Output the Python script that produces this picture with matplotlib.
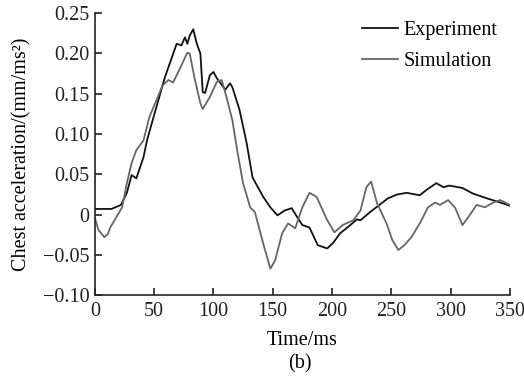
import matplotlib
matplotlib.use('Agg')
import matplotlib.pyplot as plt

plt.rcParams['font.family'] = ['Liberation Serif', 'DejaVu Serif']

# Experiment curve (time in ms, acceleration in mm/ms^2)
exp_t = [0, 14, 22, 27, 31, 35, 41, 44, 47, 59, 69, 73, 76, 78, 80, 83, 86, 89, 91,
         93, 97, 100, 103, 107, 110, 114, 116, 122, 128, 133, 142, 148, 154, 160,
         166, 171, 175, 181, 188, 196, 201, 207, 213, 221, 224, 232, 240, 247, 255,
         263, 274, 280, 288, 294, 299, 310, 319, 331, 342, 350]
exp_v = [0.007, 0.007, 0.012, 0.027, 0.049, 0.045, 0.071, 0.092, 0.108, 0.170,
         0.212, 0.210, 0.220, 0.212, 0.222, 0.230, 0.212, 0.200, 0.152, 0.151,
         0.173, 0.177, 0.169, 0.161, 0.155, 0.163, 0.158, 0.130, 0.089, 0.046,
         0.022, 0.009, -0.001, 0.005, 0.008, -0.004, -0.013, -0.016, -0.038,
         -0.042, -0.035, -0.023, -0.016, -0.006, -0.007, 0.003, 0.012, 0.020,
         0.025, 0.027, 0.024, 0.031, 0.039, 0.034, 0.036, 0.033, 0.026, 0.020,
         0.015, 0.011]

# Simulation curve
sim_t = [0, 3, 8, 11, 13, 19, 23, 27, 31, 35, 41, 46, 57, 62, 66, 72, 78, 80, 84,
         89, 91, 97, 103, 107, 111, 116, 120, 125, 131, 135, 142, 148, 152, 158,
         163, 169, 175, 181, 187, 196, 202, 209, 218, 224, 229, 233, 238, 246,
         251, 256, 261, 267, 274, 281, 287, 291, 298, 304, 310, 316, 322, 329,
         336, 342, 350]
sim_v = [-0.004, -0.019, -0.028, -0.024, -0.016, -0.001, 0.009, 0.039, 0.064,
         0.080, 0.092, 0.121, 0.160, 0.167, 0.164, 0.182, 0.201, 0.200, 0.170,
         0.138, 0.131, 0.146, 0.165, 0.167, 0.146, 0.117, 0.080, 0.039, 0.009,
         0.003, -0.036, -0.067, -0.057, -0.023, -0.011, -0.017, 0.009, 0.027,
         0.022, -0.007, -0.022, -0.013, -0.007, 0.005, 0.034, 0.041, 0.014,
         -0.011, -0.032, -0.044, -0.038, -0.028, -0.011, 0.009, 0.015, 0.012,
         0.018, 0.008, -0.013, -0.001, 0.012, 0.009, 0.015, 0.018, 0.012]

x_ticks = [0, 50, 100, 150, 200, 250, 300, 350]
y_ticks = [-0.10, -0.05, 0, 0.05, 0.10, 0.15, 0.20, 0.25]
y_tick_labels = ['\u22120.10', '\u22120.05', '0', '0.05', '0.10', '0.15', '0.20', '0.25']

fig = plt.figure(figsize=(5.24, 3.76), dpi=100, facecolor='white')
ax = fig.add_axes([0.181, 0.215, 0.792, 0.75])

ax.plot(exp_t, exp_v, color='#111111', lw=1.3, label='Experiment')
ax.plot(sim_t, sim_v, color='#666666', lw=1.3, label='Simulation')

ax.set_xlim(0, 350)
ax.set_ylim(-0.10, 0.25)
ax.set_xticks(x_ticks)
ax.set_yticks(y_ticks)
ax.set_yticklabels(y_tick_labels)
ax.tick_params(direction='in', length=5, width=1.2, labelsize=14.5, colors='#222222')
ax.tick_params(axis='x', pad=5)
ax.tick_params(axis='y', pad=4)
for side in ('top', 'right'):
  ax.spines[side].set_visible(False)
for side in ('left', 'bottom'):
  ax.spines[side].set_linewidth(1.2)
  ax.spines[side].set_color('#222222')

ax.set_xlabel('Time/ms', fontsize=14.5, labelpad=7)
ax.set_ylabel('Chest acceleration/(mm/ms\u00b2)', fontsize=14.5, labelpad=8)
fig.text(0.573, 0.02, '(b)', fontsize=14.5, ha='center')

ax.legend(loc='upper right', bbox_to_anchor=(1.0, 1.015), frameon=False, fontsize=14.5,
          handlelength=1.8, handletextpad=0.3, labelspacing=0.6, borderaxespad=0.2)

fig.savefig('out.png', dpi=100)
